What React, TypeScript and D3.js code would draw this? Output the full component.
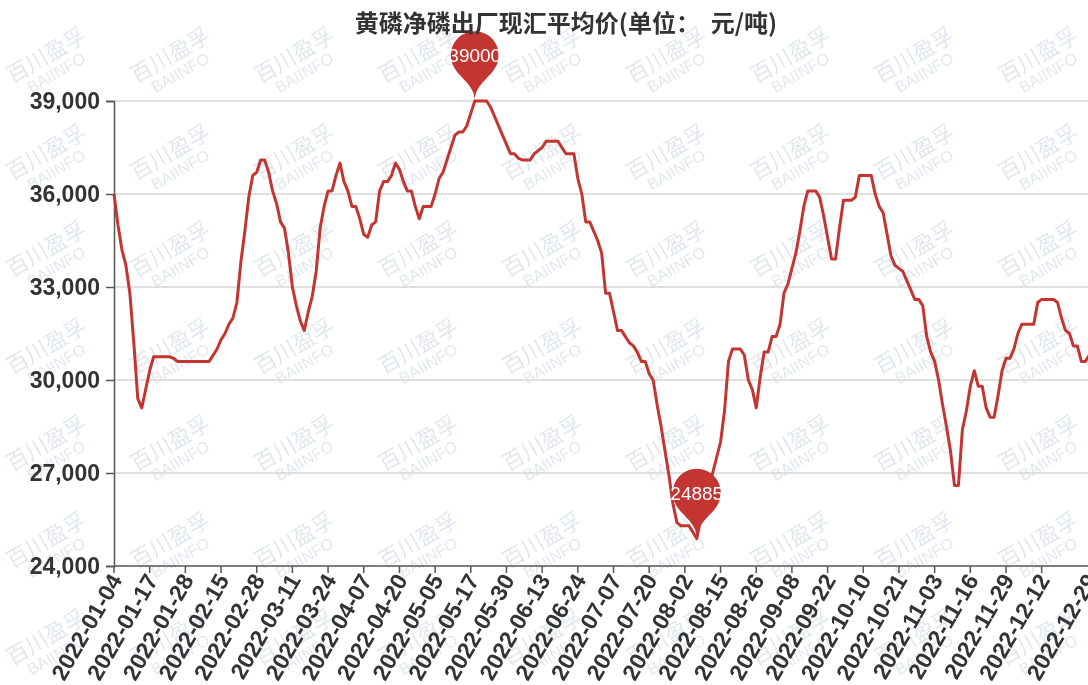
import * as d3 from "d3";
import { useEffect, useRef } from "react";

// chart title
const title = "黄磷净磷出厂现汇平均价(单位：  元/吨)";

// daily price, one value per working day of 2022 (元/吨)
const prices = [
  36000, 35000, 34200, 33700, 32800, 31200, 29400, 29100, 29700, 30300,
  30750, 30750, 30750, 30750, 30750, 30700, 30600, 30600, 30600, 30600,
  30600, 30600, 30600, 30600, 30600, 30800, 31000, 31300, 31500, 31800,
  32000, 32500, 33800, 34800, 35900, 36600, 36700, 37100, 37100, 36700,
  36100, 35700, 35100, 34900, 34100, 33000, 32400, 31900, 31600, 32200,
  32700, 33500, 34900, 35600, 36100, 36100, 36600, 37000, 36400, 36100,
  35600, 35600, 35200, 34700, 34600, 35000, 35100, 36100, 36400, 36400,
  36600, 37000, 36800, 36400, 36100, 36100, 35600, 35200, 35600, 35600,
  35600, 36000, 36500, 36700, 37100, 37500, 37900, 38000, 38000, 38200,
  38600, 39000, 39000, 39000, 39000, 38800, 38500, 38200, 37900, 37600,
  37300, 37300, 37150, 37100, 37100, 37100, 37300, 37400, 37500, 37700,
  37700, 37700, 37700, 37500, 37300, 37300, 37300, 36500, 36000, 35100,
  35100, 34800, 34500, 34100, 32800, 32800, 32200, 31600, 31600, 31400,
  31200, 31100, 30900, 30600, 30600, 30200, 30000, 29200, 28500, 27700,
  26900, 26000, 25400, 25300, 25300, 25300, 25100, 24885, 25500, 26000,
  26500, 27000, 27500, 28000, 29000, 30600, 31000, 31000, 31000, 30800,
  30000, 29700, 29100, 30100, 30900, 30900, 31400, 31400, 31800, 32800,
  33100, 33600, 34100, 34800, 35600, 36100, 36100, 36100, 35900, 35300,
  34600, 33900, 33900, 34900, 35800, 35800, 35800, 35900, 36600, 36600,
  36600, 36600, 36000, 35600, 35400, 34700, 34000, 33700, 33600, 33500,
  33200, 32900, 32600, 32600, 32400, 31400, 30900, 30600, 30000, 29200,
  28500, 27700, 26600, 26600, 28400, 29000, 29800, 30300, 29800, 29800,
  29100, 28800, 28800, 29500, 30300, 30700, 30700, 31000, 31500, 31800,
  31800, 31800, 31800, 32500, 32600, 32600, 32600, 32600, 32500, 32000,
  31600, 31500, 31100, 31100, 30600, 30600, 30800,
];

// x axis labels, shown every 9th working day, plus the last day
const xLabels = [
  "2022-01-04", "2022-01-17", "2022-01-28", "2022-02-15", "2022-02-28",
  "2022-03-11", "2022-03-24", "2022-04-07", "2022-04-20", "2022-05-05",
  "2022-05-17", "2022-05-30", "2022-06-13", "2022-06-24", "2022-07-07",
  "2022-07-20", "2022-08-02", "2022-08-15", "2022-08-26", "2022-09-08",
  "2022-09-22", "2022-10-10", "2022-10-21", "2022-11-03", "2022-11-16",
  "2022-11-29", "2022-12-12",
];
const lastLabel = "2022-12-29";

const yTicks = [24000, 27000, 30000, 33000, 36000, 39000];

const RED = "#c23531";
const LATIN = "'Liberation Sans', Arial, sans-serif";
const CJK = "'Noto Sans CJK SC', sans-serif";

// ECharts-like "pin" balloon with its tip at (x, y)
const pinPath = (x: number, y: number, size: number) => {
  const w = size * 0.6;
  const h = size;
  const r = w / 2;
  const dy = (r * r) / (h - r);
  const cy = y - h + r + dy;
  const angle = Math.asin(dy / r);
  const dx = Math.cos(angle) * r;
  const tanX = Math.sin(angle);
  const tanY = Math.cos(angle);
  const cpLen = r * 0.6;
  const cpLen2 = r * 0.7;
  const p = d3.path();
  p.moveTo(x - dx, cy + dy);
  p.arc(x, cy, r, Math.PI - angle, Math.PI * 2 + angle);
  p.bezierCurveTo(x + dx - tanX * cpLen, cy + dy + tanY * cpLen, x, y - cpLen2, x, y);
  p.bezierCurveTo(x, y - cpLen2, x - dx + tanX * cpLen, cy + dy + tanY * cpLen, x - dx, cy + dy);
  p.closePath();
  return { d: p.toString(), cy };
};

const PriceChart = () => {
  const ref = useRef<SVGSVGElement | null>(null);

  useEffect(() => {
    const width = 1088;
    const height = 685;
    const margin = { top: 101, left: 114, bottom: 119 };
    const step = 35.68 / 9;

    const svg = d3.select(ref.current);
    svg.selectAll("*").remove();
    svg.attr("width", width).attr("height", height);

    svg.append("rect").attr("width", width).attr("height", height).attr("fill", "#fff");

    // watermark
    const wm = svg.append("g").attr("fill", "#c9d4e2").attr("opacity", 0.55);
    for (let c = 0; c < 9; c++) {
      for (let r = 0; r < 7; r++) {
        const g = wm.append("g")
          .attr("transform", `translate(${50 + c * 124}, ${62 + r * 97}) rotate(-30)`);
        g.append("text").attr("text-anchor", "middle").attr("font-family", CJK)
          .attr("font-size", 22).text("百川盈孚");
        g.append("text").attr("text-anchor", "middle").attr("font-family", LATIN)
          .attr("font-size", 16).attr("y", 18).text("BAIINFO");
      }
    }

    const idx = d3.range(prices.length);
    const x = d3.scalePoint<number>()
      .domain(idx)
      .range([margin.left, margin.left + step * (prices.length - 1)]);
    const y = d3.scaleLinear()
      .domain([24000, 39000])
      .range([height - margin.bottom, margin.top]);

    // grid
    svg.append("g")
      .selectAll("line")
      .data(yTicks.slice(1))
      .join("line")
      .attr("x1", margin.left).attr("x2", width + 20)
      .attr("y1", d => y(d)).attr("y2", d => y(d))
      .attr("stroke", "#d6d6d6").attr("stroke-width", 1.5);

    // y axis
    const yAxis = svg.append("g").attr("transform", `translate(${margin.left},0)`)
      .call(d3.axisLeft(y).tickValues(yTicks).tickSize(8).tickPadding(6).tickFormat(d3.format(",")));
    yAxis.select(".domain").attr("stroke", "#555").attr("stroke-width", 1.5);
    yAxis.selectAll(".tick line").attr("stroke", "#555").attr("stroke-width", 1.5);
    yAxis.selectAll(".tick text")
      .attr("font-family", LATIN).attr("font-size", 23).attr("font-weight", "bold").attr("fill", "#333");

    // x axis
    const tickIdx = xLabels.map((_, k) => k * 9);
    const xAxis = svg.append("g").attr("transform", `translate(0,${y(24000)})`);
    xAxis.append("line")
      .attr("x1", margin.left).attr("x2", width + 20)
      .attr("stroke", "#555").attr("stroke-width", 1.5);
    const ticks = xAxis.selectAll("g.tick")
      .data([...tickIdx.map((i, k) => ({ i, label: xLabels[k] })), { i: prices.length - 1, label: lastLabel }])
      .join("g")
      .attr("class", "tick")
      .attr("transform", d => `translate(${x(d.i)},0)`);
    ticks.append("line").attr("y2", 7).attr("stroke", "#555").attr("stroke-width", 1.5);
    ticks.append("text")
      .attr("transform", "translate(2,10) rotate(-60)")
      .attr("text-anchor", "end")
      .attr("dy", "0.35em")
      .attr("font-family", LATIN).attr("font-size", 23).attr("font-weight", "bold").attr("fill", "#333")
      .text(d => d.label);

    // price line
    svg.append("path")
      .datum(prices)
      .attr("fill", "none")
      .attr("stroke", RED)
      .attr("stroke-width", 3)
      .attr("stroke-linejoin", "round")
      .attr("d", d3.line<number>().x((_, i) => x(i) as number).y(d => y(d)));

    // max / min pins
    const maxI = d3.maxIndex(prices);
    const minI = d3.minIndex(prices);
    [maxI, minI].forEach(i => {
      const pin = pinPath(x(i) as number, y(prices[i]), 80);
      svg.append("path").attr("d", pin.d).attr("fill", RED);
      svg.append("text")
        .attr("x", x(i) as number).attr("y", pin.cy)
        .attr("text-anchor", "middle").attr("dy", "0.36em")
        .attr("font-family", LATIN).attr("font-size", 19).attr("fill", "#fff")
        .text(prices[i]);
    });

    // title
    svg.append("text")
      .attr("x", 566).attr("y", 32)
      .attr("text-anchor", "middle")
      .attr("font-family", CJK).attr("font-size", 24).attr("font-weight", "bold")
      .attr("fill", "#333")
      .style("white-space", "pre")
      .text(title);
  }, []);

  return <svg ref={ref} style={{ display: "block" }} />;
};

export default function App() {
  return (
    <div style={{ position: "fixed", left: 0, top: 0, width: 1088, height: 685, overflow: "hidden" }}>
      <PriceChart />
    </div>
  );
}
